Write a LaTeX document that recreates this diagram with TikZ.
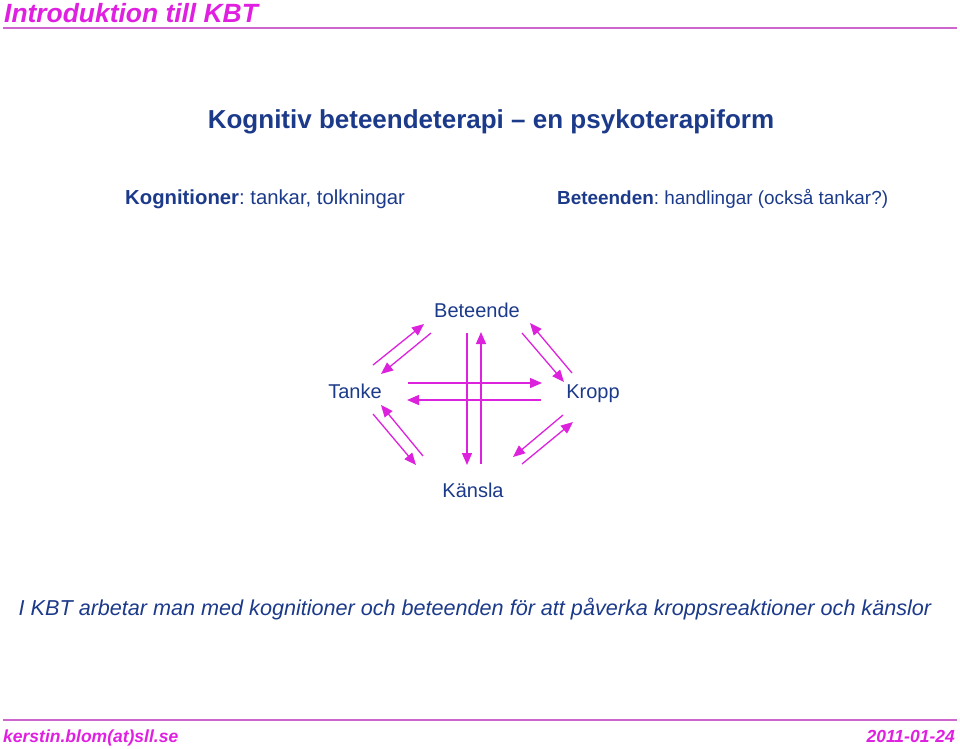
\documentclass[tikz,border=0pt]{standalone}
\usepackage{fontspec}
\setmainfont{Liberation Sans}
\usetikzlibrary{arrows.meta}
\definecolor{kbtmag}{HTML}{E020E0}
\definecolor{kbtline}{HTML}{CC66CC}
\definecolor{kbtblue}{HTML}{1C3A8A}
\definecolor{kbtarrow}{HTML}{DD22DD}
\frenchspacing
\tikzset{
  lbl/.style={inner sep=0pt, text=kbtblue, font=\fontsize{20}{24}\selectfont, anchor=base},
  arr/.style={draw=kbtarrow, line width=1.3pt, -{Triangle[length=12pt,width=10pt]}},
  rule/.style={draw=kbtline, line width=2pt},
}
\begin{document}
\begin{tikzpicture}[x=1pt,y=-1pt]
\useasboundingbox (0,0) rectangle (960,748);
% title and top rule
\node[inner sep=0pt, anchor=base west, text=kbtmag, font=\fontsize{26.4}{30}\selectfont\bfseries\itshape] (title) at (4,22) {Introduktion till KBT};
\coordinate (r1a) at (3,28);
\coordinate (r1b) at (957,28);
\draw[rule] (r1a) -- (r1b);
% heading
\node[inner sep=0pt, anchor=base, text=kbtblue, font=\fontsize{26}{30}\selectfont\bfseries] (head) at (491,128) {Kognitiv beteendeterapi -- en psykoterapiform};
\node[inner sep=0pt, anchor=base west, text=kbtblue, font=\fontsize{20.3}{24}\selectfont] (kog) at (125,204) {\textbf{Kognitioner}: tankar, tolkningar};
\node[inner sep=0pt, anchor=base west, text=kbtblue, font=\fontsize{18.9}{24}\selectfont] (bet) at (557,204) {\textbf{Beteenden}: handlingar (också tankar?)};
% diagram labels
\node[lbl] (beteende) at (477,317) {Beteende};
\node[lbl] (tanke) at (355,398) {Tanke};
\node[lbl] (kropp) at (593,398) {Kropp};
\node[lbl] (kansla) at (473,497) {Känsla};
% arrow end points
\coordinate (ul1s) at (373,365); \coordinate (ul1e) at (424,324);
\coordinate (ul2s) at (431,333); \coordinate (ul2e) at (381,374);
\coordinate (ur1s) at (572,373); \coordinate (ur1e) at (530,323);
\coordinate (ur2s) at (522,333); \coordinate (ur2e) at (564,382);
\coordinate (h1s) at (408,383); \coordinate (h1e) at (542,383);
\coordinate (h2s) at (541,400); \coordinate (h2e) at (407,400);
\coordinate (v1s) at (467,333); \coordinate (v1e) at (467,465);
\coordinate (v2s) at (481,464); \coordinate (v2e) at (481,332);
\coordinate (ll1s) at (373,414); \coordinate (ll1e) at (416,465);
\coordinate (ll2s) at (423,456); \coordinate (ll2e) at (381,405);
\coordinate (lr1s) at (563,415); \coordinate (lr1e) at (513,457);
\coordinate (lr2s) at (522,464); \coordinate (lr2e) at (573,422);
\draw[arr] (ul1s) -- (ul1e);
\draw[arr] (ul2s) -- (ul2e);
\draw[arr] (ur1s) -- (ur1e);
\draw[arr] (ur2s) -- (ur2e);
\draw[arr] (h1s) -- (h1e);
\draw[arr] (h2s) -- (h2e);
\draw[arr] (v1s) -- (v1e);
\draw[arr] (v2s) -- (v2e);
\draw[arr] (ll1s) -- (ll1e);
\draw[arr] (ll2s) -- (ll2e);
\draw[arr] (lr1s) -- (lr1e);
\draw[arr] (lr2s) -- (lr2e);
% sentence
\node[inner sep=0pt, anchor=base, text=kbtblue, font=\fontsize{21.6}{26}\selectfont\itshape] (sent) at (475,615) {I KBT arbetar man med kognitioner och beteenden för att påverka kroppsreaktioner och känslor};
% footer
\coordinate (r2a) at (3,720);
\coordinate (r2b) at (957,720);
\draw[rule] (r2a) -- (r2b);
\node[inner sep=0pt, anchor=base west, text=kbtmag, font=\fontsize{17.5}{20}\selectfont\bfseries\itshape] (mail) at (3,742) {kerstin.blom(at)sll.se};
\node[inner sep=0pt, anchor=base east, text=kbtmag, font=\fontsize{17.5}{20}\selectfont\bfseries\itshape] (date) at (955,742) {2011-01-24};
\end{tikzpicture}
\end{document}
